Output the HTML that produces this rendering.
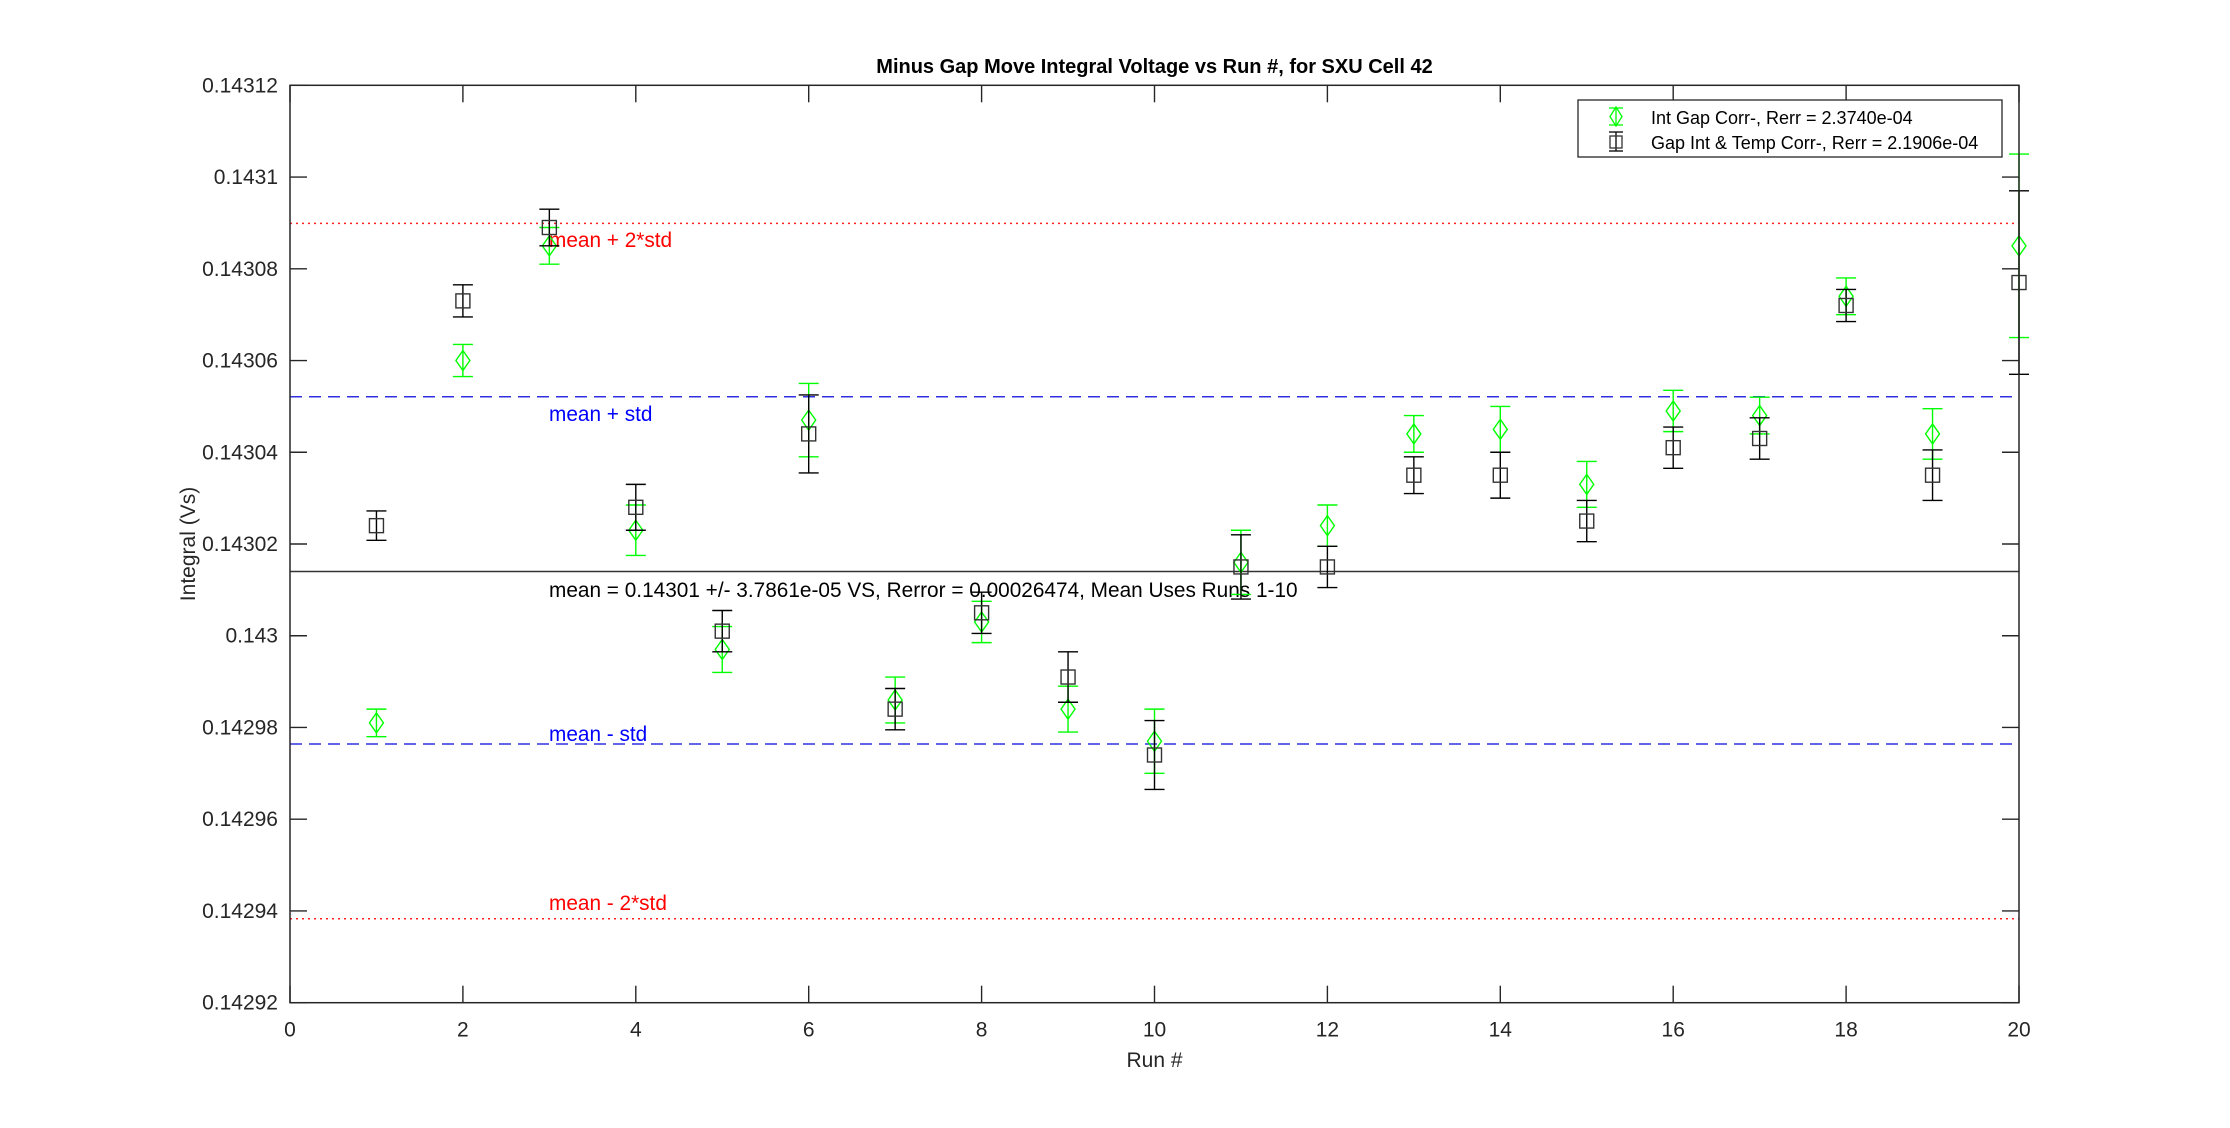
<!DOCTYPE html>
<html><head><meta charset="utf-8"><style>html,body{margin:0;padding:0;background:#fff}svg{display:block}</style></head>
<body>
<svg id="s" width="2230" height="1128" xmlns="http://www.w3.org/2000/svg" font-family="Liberation Sans, Arial, sans-serif">
<rect width="2230" height="1128" fill="#fff"/>
<g id="g"></g>
</svg>
<script>
var L=290,R=2019,T=85.3,B=1002.7;
function X(r){return L+(R-L)*r/20;}
function Y(v){return T+(0.14312-v)/0.0002*(B-T);}
var h='';
function ln(x1,y1,x2,y2,c,w,d){h+='<line x1="'+x1+'" y1="'+y1+'" x2="'+x2+'" y2="'+y2+'" stroke="'+c+'" stroke-width="'+(w||1.3)+'"'+(d?' stroke-dasharray="'+d+'"':'')+'/>';}
function tx(x,y,s,t,a,c,ex){h+='<text x="'+x+'" y="'+y+'" font-size="'+s+'" text-anchor="'+(a||'start')+'" fill="'+(c||'#262626')+'" '+(ex||'')+'>'+t+'</text>';}
ln(L,Y(0.1430899),R,Y(0.1430899),'#ff2020',1.4,'2,4');
ln(L,Y(0.1429383),R,Y(0.1429383),'#ff2020',1.4,'2,4');
ln(L,Y(0.1430521),R,Y(0.1430521),'#3030e0',1.4,'12,7');
ln(L,Y(0.1429764),R,Y(0.1429764),'#3030e0',1.4,'12,7');
ln(L,Y(0.143014),R,Y(0.143014),'#333',1.5);
tx(549,247,20.8,'mean + 2*std','start','#ff0000');
tx(549,421,20.8,'mean + std','start','#0000ff');
tx(549,597,20.8,'mean = 0.14301 +/- 3.7861e-05 VS, Rerror = 0.00026474, Mean Uses Runs 1-10','start','#000');
tx(549,741,20.8,'mean - std','start','#0000ff');
tx(549,910,20.8,'mean - 2*std','start','#ff0000');
var G=[[.142981,3],[.143060,3.5],[.143085,4],[.143023,5.5],[.142997,5],[.143047,8],[.142986,5],[.143003,4.5],[.142984,5],[.142977,7],[.143016,7],[.143024,4.5],[.143044,4],[.143045,5],[.143033,5],[.143049,4.5],[.143048,4],[.143074,4],[.143044,5.5],[.143085,20]];
var K=[[.143024,3.2],[.143073,3.5],[.143089,4],[.143028,5],[.143001,4.5],[.143044,8.5],[.142984,4.5],[.143005,4.5],[.142991,5.5],[.142974,7.5],[.143015,7],[.143015,4.5],[.143035,4],[.143035,5],[.143025,4.5],[.143041,4.5],[.143043,4.5],[.143072,3.5],[.143035,5.5],[.143077,20]];
function eb(r,v,e,c){var x=X(r),y1=Y(v+e*1e-6),y2=Y(v-e*1e-6);ln(x,y1,x,y2,c,1.4);ln(x-10,y1,x+10,y1,c,1.4);ln(x-10,y2,x+10,y2,c,1.4);}
for(var i=0;i<20;i++){var r=i+1;
 eb(r,G[i][0],G[i][1],'#00ff00');
 var x=X(r),y=Y(G[i][0]);h+='<polygon points="'+x+','+(y-10)+' '+(x+7)+','+y+' '+x+','+(y+10)+' '+(x-7)+','+y+'" fill="none" stroke="#00ff00" stroke-width="1.4"/>';
}
for(var i=0;i<20;i++){var r=i+1;
 eb(r,K[i][0],K[i][1],'#000');
 var x=X(r),y=Y(K[i][0]);h+='<rect x="'+(x-7)+'" y="'+(y-7)+'" width="14" height="14" fill="none" stroke="#333" stroke-width="1.4"/>';
}
h+='<rect x="'+L+'" y="'+T+'" width="'+(R-L)+'" height="'+(B-T)+'" fill="none" stroke="#262626" stroke-width="1.5"/>';
for(var r=0;r<=20;r+=2){var x=X(r);ln(x,B,x,B-17,'#262626',1.4);ln(x,T,x,T+17,'#262626',1.4);tx(x,B+34,21,r,'middle');}
var yl=['0.14292','0.14294','0.14296','0.14298','0.143','0.14302','0.14304','0.14306','0.14308','0.1431','0.14312'];
for(var k=0;k<=10;k++){var v=0.14292+k*0.00002,y=Y(v);ln(L,y,L+17,y,'#262626',1.4);ln(R,y,R-17,y,'#262626',1.4);tx(L-12,y+7,21,yl[k],'end');}
tx((L+R)/2,73,20,'Minus Gap Move Integral Voltage vs Run #, for SXU Cell 42','middle','#000','font-weight="bold"');
tx((L+R)/2,1067,21,'Run #','middle');
tx(0,0,21,'Integral (Vs)','middle','#262626','transform="translate(195,544) rotate(-90)"');
h+='<rect x="1578" y="100" width="424" height="57" fill="#fff" stroke="#262626" stroke-width="1.3"/>';
ln(1616,108,1616,125,'#00ff00',1.3);ln(1609,108,1623,108,'#00ff00',1.3);ln(1609,125,1623,125,'#00ff00',1.3);
h+='<polygon points="1616,107 1622,116.5 1616,126 1610,116.5" fill="none" stroke="#00ff00" stroke-width="1.3"/>';
ln(1616,132,1616,151,'#000',1.3);ln(1609,132,1623,132,'#000',1.3);ln(1609,151,1623,151,'#000',1.3);
h+='<rect x="1610" y="136" width="12" height="12" fill="none" stroke="#333" stroke-width="1.3"/>';
tx(1651,124,18,'Int Gap Corr-, Rerr = 2.3740e-04','start','#000');
tx(1651,149,18,'Gap Int &amp; Temp Corr-, Rerr = 2.1906e-04','start','#000');
document.getElementById('g').innerHTML=h;
</script>
</body></html>
